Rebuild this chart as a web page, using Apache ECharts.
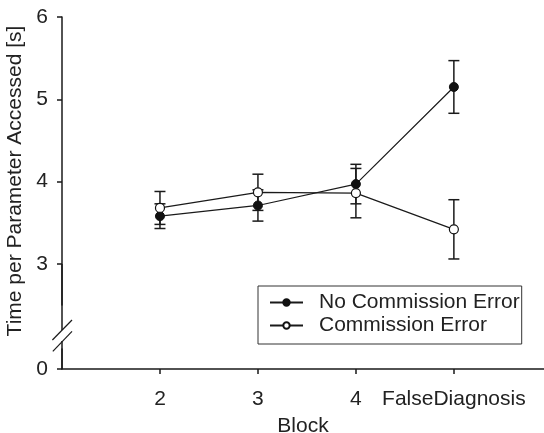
<!DOCTYPE html>
<html><head><meta charset="utf-8">
<script src="https://cdn.jsdelivr.net/npm/echarts@6/dist/echarts.min.js"></script>
<style>html,body{margin:0;padding:0;background:#fff}#c{width:544px;height:433px}</style>
</head><body><div id="c"></div><script>
// ---- data ----
const categories = ['2', '3', '4', 'FalseDiagnosis'];
const blockPos = [2, 3, 4, 5];
const noErrMean = [3.58, 3.71, 3.97, 5.15];
const noErrSE = [0.15, 0.19, 0.24, 0.32];
const errMean = [3.68, 3.87, 3.86, 3.42];
const errSE = [0.20, 0.22, 0.30, 0.36];
const yTickValues = [0, 3, 4, 5, 6];
const yBreak = [0.25, 2.5];
const seriesNames = ['No Commission Error', 'Commission Error'];
const xAxisTitle = 'Block';
const yAxisTitle = 'Time per Parameter Accessed [s]';

// ---- chart ----
const FONT = '"Liberation Sans", Arial, sans-serif';
const ink = '#1a1a1a';
const chart = echarts.init(document.getElementById('c'), null, {renderer: 'canvas'});

const pts = means => means.map((m, i) => [blockPos[i], m]);
const errData = (means, se) => means.map((m, i) => [blockPos[i], m - se[i], m + se[i]]);

function errRender(params, api) {
  const x = api.value(0);
  const lo = api.coord([x, api.value(1)]);
  const hi = api.coord([x, api.value(2)]);
  const hw = 5.5;
  const style = {stroke: ink, lineWidth: 1.5, fill: null};
  return {type: 'group', children: [
    {type: 'line', shape: {x1: lo[0], y1: lo[1], x2: hi[0], y2: hi[1]}, style},
    {type: 'line', shape: {x1: lo[0] - hw, y1: lo[1], x2: lo[0] + hw, y2: lo[1]}, style},
    {type: 'line', shape: {x1: hi[0] - hw, y1: hi[1], x2: hi[0] + hw, y2: hi[1]}, style}
  ]};
}

const txt = {fontFamily: FONT, fontSize: 21, color: '#222'};

chart.setOption({
  animation: false,
  backgroundColor: '#fff',
  grid: {left: 62, top: 17, right: 0, bottom: 64, containLabel: false, outerBoundsMode: 'none'},
  legend: {
    data: seriesNames,
    orient: 'vertical',
    left: 258, top: 286,
    padding: [6, 2, 8, 11],
    itemGap: 2,
    itemWidth: 33, itemHeight: 8,
    borderColor: '#333', borderWidth: 1,
    textStyle: Object.assign({}, txt, {padding: [0, 0, 0, 11]})
  },
  xAxis: {
    type: 'value', min: 1, max: 5.92, interval: 1,
    axisLine: {show: true, onZero: false, lineStyle: {color: ink, width: 1.5}},
    axisTick: {show: true, customValues: blockPos, length: 5, lineStyle: {color: ink, width: 1.5}},
    axisLabel: Object.assign({customValues: blockPos, margin: 20,
      formatter: v => categories[blockPos.indexOf(v)] || ''}, txt),
    splitLine: {show: false},
    name: xAxisTitle, nameLocation: 'middle', nameGap: 47, nameTextStyle: txt
  },
  yAxis: {
    type: 'value', min: 0, max: 6, interval: 1,
    breaks: [{start: yBreak[0], end: yBreak[1], gap: 0.527}],
    breakArea: {show: false},
    axisLine: {show: true, onZero: false, lineStyle: {color: ink, width: 1.5}},
    axisTick: {show: true, customValues: yTickValues, length: 5, lineStyle: {color: ink, width: 1.5}},
    axisLabel: Object.assign({customValues: yTickValues, margin: 14,
      formatter: v => (yTickValues.indexOf(v) >= 0 ? String(v) : '')}, txt),
    splitLine: {show: false},
    name: yAxisTitle, nameLocation: 'middle', nameGap: 33, nameRotate: 90,
    nameTextStyle: Object.assign({}, txt, {padding: [0, 0, 0, 24]})
  },
  series: [
    {type: 'custom', name: 'errNo', renderItem: errRender, data: errData(noErrMean, noErrSE), z: 1, silent: true},
    {type: 'custom', name: 'errYes', renderItem: errRender, data: errData(errMean, errSE), z: 1, silent: true},
    {type: 'line', name: seriesNames[0], data: pts(noErrMean), z: 3,
      symbol: 'circle', symbolSize: 9, showAllSymbol: true,
      lineStyle: {color: ink, width: 1.2},
      itemStyle: {color: '#111', borderColor: '#111', borderWidth: 1}},
    {type: 'line', name: seriesNames[1], data: pts(errMean), z: 3,
      symbol: 'circle', symbolSize: 9, showAllSymbol: true,
      lineStyle: {color: ink, width: 1.2},
      itemStyle: {color: '#fff', borderColor: '#111', borderWidth: 1.2}}
  ]
});

// axis-break marks on the y axis (axis line drawn through the break, cut between the slashes)
const ax = chart.convertToPixel({xAxisIndex: 0}, 1);
const y0 = chart.convertToPixel({yAxisIndex: 0}, 0);
const y3 = chart.convertToPixel({yAxisIndex: 0}, 3);
const ms = {stroke: ink, lineWidth: 1.2};
chart.setOption({
  graphic: [
    {type: 'line', z: 99, shape: {x1: ax, y1: y3, x2: ax, y2: y0}, style: {stroke: ink, lineWidth: 1.5}},
    {type: 'rect', z: 100, shape: {x: ax - 2, y: y0 - 39, width: 4, height: 11}, style: {fill: '#fff'}},
    {type: 'line', z: 101, shape: {x1: ax + 10, y1: y0 - 49, x2: ax - 9.6, y2: y0 - 29}, style: ms},
    {type: 'line', z: 101, shape: {x1: ax + 10, y1: y0 - 37.6, x2: ax - 9.2, y2: y0 - 17.6}, style: ms}
  ]
});
</script></body></html>
